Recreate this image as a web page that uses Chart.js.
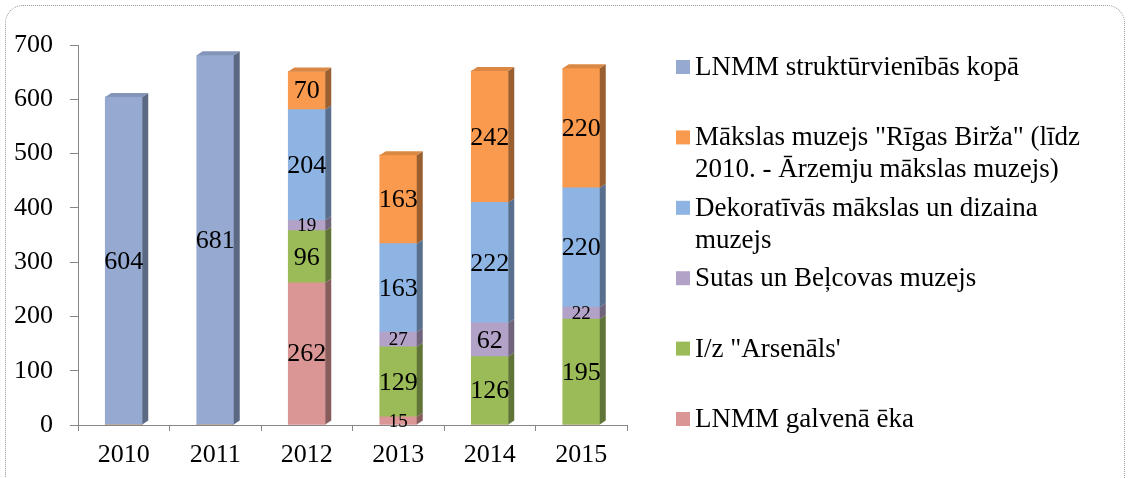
<!DOCTYPE html>
<html>
<head>
<meta charset="utf-8">
<script src="https://cdn.jsdelivr.net/npm/chart.js@4.4.1/dist/chart.umd.min.js"></script>
<style>
  html, body { margin: 0; padding: 0; background: #fff; }
  #wrap { position: relative; width: 1129px; height: 478px; overflow: hidden; }
  #frame {
    position: absolute; left: 5px; top: 5px; width: 1120px; height: 490px;
    border: 1px dotted #9a9a9a; border-radius: 18px; box-sizing: border-box;
  }
  canvas { position: absolute; left: 0; top: 0; }
</style>
</head>
<body>
<div id="wrap">
  <div id="frame"></div>
  <canvas id="grafico" width="1129" height="478"></canvas>
</div>
<script>
// dati
const anni = ['2010', '2011', '2012', '2013', '2014', '2015'];
const galvenaEka   = [0, 0, 262, 15, 0, 0];
const arsenals     = [0, 0, 96, 129, 126, 195];
const sutas        = [0, 0, 19, 27, 62, 22];
const dekorativas  = [0, 0, 204, 163, 222, 220];
const rigasBirza   = [0, 0, 70, 163, 242, 220];
const kopa         = [604, 681, 0, 0, 0, 0];

const nomi = [
  'LNMM galvenā ēka',
  'I/z "Arsenāls\'',
  'Sutas un Beļcovas muzejs',
  'Dekoratīvās mākslas un dizaina muzejs',
  'Mākslas muzejs "Rīgas Birža" (līdz 2010. - Ārzemju mākslas muzejs)',
  'LNMM struktūrvienībās kopā'
];
const colori = ['#DA9694', '#9BBB59', '#B3A2C7', '#8EB4E3', '#F99A4E', '#95A9D1'];
const serie = [galvenaEka, arsenals, sutas, dekorativas, rigasBirza, kopa];

const FONT = "'Liberation Serif', 'Times New Roman', serif";

function scurisci(hex, f) {
  const n = parseInt(hex.slice(1), 16);
  const r = Math.round(((n >> 16) & 255) * f);
  const g = Math.round(((n >> 8) & 255) * f);
  const b = Math.round((n & 255) * f);
  return `rgb(${r},${g},${b})`;
}

// lati 3D delle barre
const lati3d = {
  id: 'lati3d',
  afterDatasetsDraw(chart) {
    const ctx = chart.ctx;
    const dx = 6, dy = 4;
    const cima = new Array(anni.length).fill(-1);
    chart.data.datasets.forEach((ds, i) => {
      ds.data.forEach((v, j) => { if (v > 0) cima[j] = i; });
    });
    ctx.save();
    chart.data.datasets.forEach((ds, i) => {
      const meta = chart.getDatasetMeta(i);
      meta.data.forEach((bar, j) => {
        if (!(ds.data[j] > 0)) return;
        const w = bar.width / 2;
        const r = bar.x + w, l = bar.x - w;
        const top = bar.y, bot = bar.base;
        ctx.fillStyle = scurisci(colori[i], 0.62);
        ctx.beginPath();
        ctx.moveTo(r, bot);
        ctx.lineTo(r + dx, bot - dy);
        ctx.lineTo(r + dx, top - dy);
        ctx.lineTo(r, top);
        ctx.closePath();
        ctx.fill();
        if (cima[j] === i) {
          ctx.fillStyle = scurisci(colori[i], 0.88);
          ctx.beginPath();
          ctx.moveTo(l, top);
          ctx.lineTo(l + dx, top - dy);
          ctx.lineTo(r + dx, top - dy);
          ctx.lineTo(r, top);
          ctx.closePath();
          ctx.fill();
        }
      });
    });
    ctx.restore();
  }
};

// etichette dei valori
const etichette = {
  id: 'etichette',
  afterDatasetsDraw(chart) {
    const ctx = chart.ctx;
    ctx.save();
    ctx.fillStyle = '#000';
    ctx.textAlign = 'center';
    ctx.textBaseline = 'middle';
    chart.data.datasets.forEach((ds, i) => {
      const meta = chart.getDatasetMeta(i);
      meta.data.forEach((bar, j) => {
        const v = ds.data[j];
        if (!(v > 0)) return;
        const h = Math.abs(bar.base - bar.y);
        const size = h < 22 ? 19 : 26;
        ctx.font = `${size}px ${FONT}`;
        ctx.fillText(String(v), bar.x, (bar.y + bar.base) / 2 + 1);
      });
    });
    ctx.restore();
  }
};

// legenda a destra con testo su più righe
const legenda = {
  id: 'legenda',
  afterDraw(chart) {
    const ctx = chart.ctx;
    const x0 = 676, xt = 695, maxW = 400;
    const passo = 70.4, primo = 75, riga = 32;
    ctx.save();
    ctx.font = `27px ${FONT}`;
    ctx.textBaseline = 'alphabetic';
    ctx.textAlign = 'left';
    const ordine = chart.data.datasets.map((d, i) => i).reverse();
    ordine.forEach((i, k) => {
      const base = primo + k * passo;
      ctx.fillStyle = colori[i];
      ctx.fillRect(x0, base - 15, 14, 14);
      const parole = chart.data.datasets[i].label.split(' ');
      const righe = [];
      let cur = '';
      parole.forEach(p => {
        const prova = cur ? cur + ' ' + p : p;
        if (cur && ctx.measureText(prova).width > maxW) {
          righe.push(cur);
          cur = p;
        } else {
          cur = prova;
        }
      });
      righe.push(cur);
      ctx.fillStyle = '#000';
      righe.forEach((t, n) => ctx.fillText(t, xt, base + n * riga));
    });
    ctx.restore();
  }
};

function disegna() {
  const ctx = document.getElementById('grafico').getContext('2d');
  new Chart(ctx, {
    type: 'bar',
    data: {
      labels: anni,
      datasets: serie.map((d, i) => ({
        label: nomi[i],
        data: d,
        backgroundColor: colori[i],
        borderWidth: 0,
        barThickness: 37
      }))
    },
    options: {
      responsive: false,
      animation: false,
      layout: { padding: { left: 8, right: 502, top: 45, bottom: 7 } },
      plugins: {
        legend: { display: false },
        tooltip: { enabled: false }
      },
      scales: {
        x: {
          stacked: true,
          afterFit: s => { s.height = 46; },
          grid: { drawOnChartArea: false, color: '#868686', tickLength: 6, offset: true },
          border: { color: '#868686' },
          ticks: { color: '#000', font: { family: FONT, size: 26 }, padding: 9 }
        },
        y: {
          stacked: true,
          min: 0,
          max: 700,
          afterFit: s => { s.width = 70; },
          grid: { drawOnChartArea: false, color: '#868686', tickLength: 8 },
          border: { color: '#868686' },
          ticks: { stepSize: 100, color: '#000', font: { family: FONT, size: 26 }, padding: 17 }
        }
      }
    },
    plugins: [lati3d, etichette, legenda]
  });
}

document.fonts.load("26px 'Liberation Serif'").then(disegna, disegna);
</script>
</body>
</html>
